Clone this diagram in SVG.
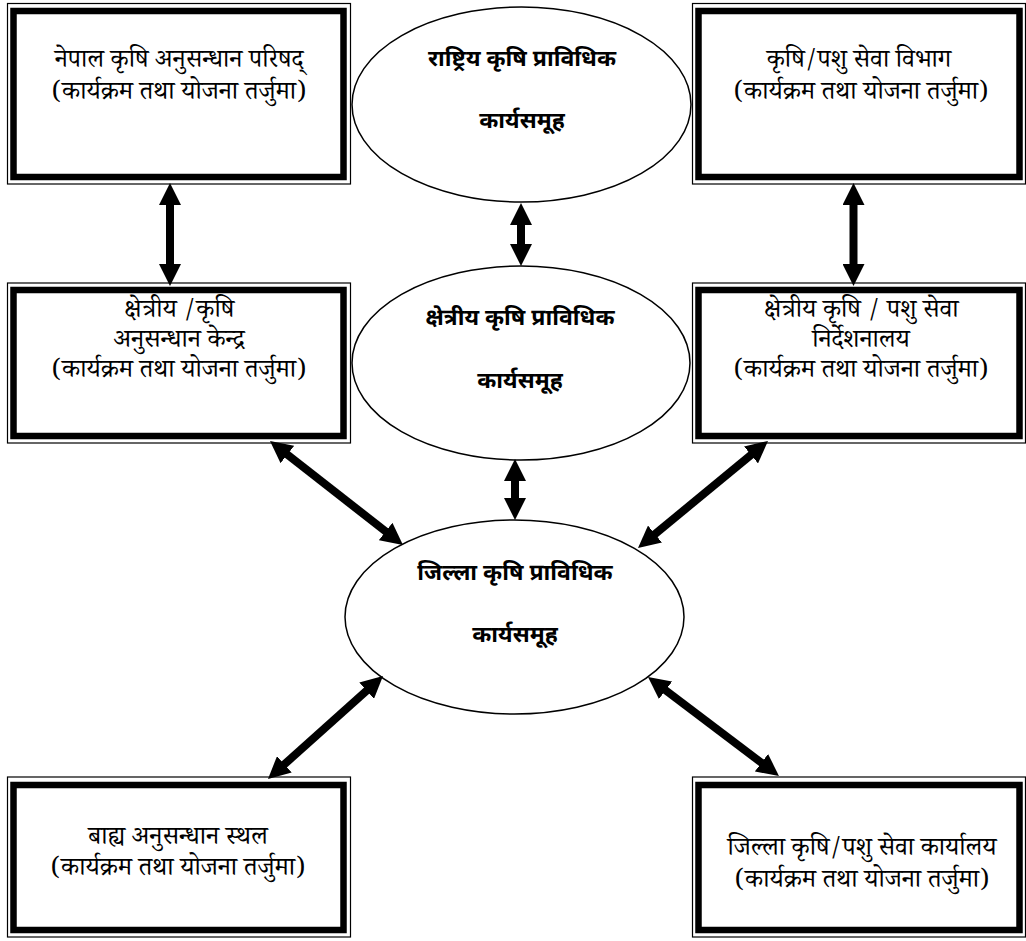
<svg xmlns="http://www.w3.org/2000/svg" width="1026" height="941" viewBox="0 0 1026 941">
<style>
.outer{fill:none;stroke:#000;stroke-width:1.2}
.inner{fill:#fff;stroke:#000;stroke-width:6.5}
.ell{fill:#fff;stroke:#000;stroke-width:1.5}
.bt{font-family:"Noto Serif Devanagari","Noto Sans Devanagari","Lohit Devanagari","Noto Sans",sans-serif;font-size:25.5px;text-anchor:middle;fill:#000}
.et{font-family:"Noto Sans Devanagari","Lohit Devanagari","Noto Sans",sans-serif;font-size:23px;font-weight:bold;text-anchor:middle;fill:#000}
.arr{stroke:#000;stroke-width:8;fill:none;marker-start:url(#ah);marker-end:url(#ah)}
</style>
<defs>
<marker id="ah" markerUnits="userSpaceOnUse" viewBox="0 0 22 22" markerWidth="22" markerHeight="22" refX="4" refY="11" orient="auto-start-reverse">
<path d="M0,0 L22,11 L0,22 z" fill="#000"/>
</marker>
</defs>
<rect width="1026" height="941" fill="#fff"/>

<g id="box-narc">
<rect class="outer" x="7.5" y="3.5" width="343" height="180.5"/>
<rect class="inner" x="13.5" y="11" width="330" height="166"/>
<text class="bt" x="179" y="67">नेपाल कृषि अनुसन्धान परिषद्</text>
<text class="bt" x="179" y="99">(कार्यक्रम तथा योजना तर्जुमा)</text>
</g>

<g id="box-dept">
<rect class="outer" x="692.5" y="3.5" width="333" height="180.5"/>
<rect class="inner" x="698.5" y="11" width="321" height="166"/>
<text class="bt" x="859" y="67">कृषि/पशु सेवा विभाग</text>
<text class="bt" x="861" y="99">(कार्यक्रम तथा योजना तर्जुमा)</text>
</g>

<g id="box-regional-research">
<rect class="outer" x="7.5" y="283" width="343" height="160"/>
<rect class="inner" x="13.5" y="290" width="330" height="146"/>
<text class="bt" x="179" y="317">क्षेत्रीय /कृषि</text>
<text class="bt" x="179" y="347">अनुसन्धान केन्द्र</text>
<text class="bt" x="179" y="377">(कार्यक्रम तथा योजना तर्जुमा)</text>
</g>

<g id="box-regional-directorate">
<rect class="outer" x="692.5" y="283" width="333" height="160"/>
<rect class="inner" x="698.5" y="290" width="321" height="146"/>
<text class="bt" x="861" y="317">क्षेत्रीय कृषि / पशु सेवा</text>
<text class="bt" x="861" y="347">निर्देशनालय</text>
<text class="bt" x="861" y="377">(कार्यक्रम तथा योजना तर्जुमा)</text>
</g>

<g id="box-outreach">
<rect class="outer" x="7.5" y="777" width="343" height="160"/>
<rect class="inner" x="13.5" y="785" width="330" height="145"/>
<text class="bt" x="178" y="844">बाह्य अनुसन्धान स्थल</text>
<text class="bt" x="178" y="875">(कार्यक्रम तथा योजना तर्जुमा)</text>
</g>

<g id="box-district-office">
<rect class="outer" x="692.5" y="777" width="333" height="160"/>
<rect class="inner" x="698.5" y="785" width="321" height="145"/>
<text class="bt" x="862" y="855">जिल्ला कृषि/पशु सेवा कार्यालय</text>
<text class="bt" x="862" y="887">(कार्यक्रम तथा योजना तर्जुमा)</text>
</g>

<g id="ell-national">
<ellipse class="ell" cx="521.5" cy="104.5" rx="169.5" ry="97.5"/>
<text class="et" x="522" y="66">राष्ट्रिय कृषि प्राविधिक</text>
<text class="et" x="522" y="128">कार्यसमूह</text>
</g>

<g id="ell-regional">
<ellipse class="ell" cx="521" cy="363" rx="169" ry="97"/>
<text class="et" x="520" y="325">क्षेत्रीय कृषि प्राविधिक</text>
<text class="et" x="520" y="388">कार्यसमूह</text>
</g>

<g id="ell-district">
<ellipse class="ell" cx="514.5" cy="617" rx="169.5" ry="97"/>
<text class="et" x="515" y="580">जिल्ला कृषि प्राविधिक</text>
<text class="et" x="515" y="642">कार्यसमूह</text>
</g>

<g id="connectors">
<line class="arr" x1="170" y1="201" x2="170" y2="268"/>
<line class="arr" x1="853.5" y1="201" x2="853.5" y2="268"/>
<line class="arr" x1="521" y1="221" x2="521" y2="248"/>
<line class="arr" x1="515" y1="477" x2="515" y2="502"/>
<line class="arr" x1="284.2" y1="452.1" x2="388.8" y2="533.9"/>
<line class="arr" x1="754.1" y1="452.4" x2="651.9" y2="536.6"/>
<line class="arr" x1="369.6" y1="688" x2="281.4" y2="767"/>
<line class="arr" x1="662.4" y1="687.9" x2="764.6" y2="765.1"/>
</g>
</svg>
